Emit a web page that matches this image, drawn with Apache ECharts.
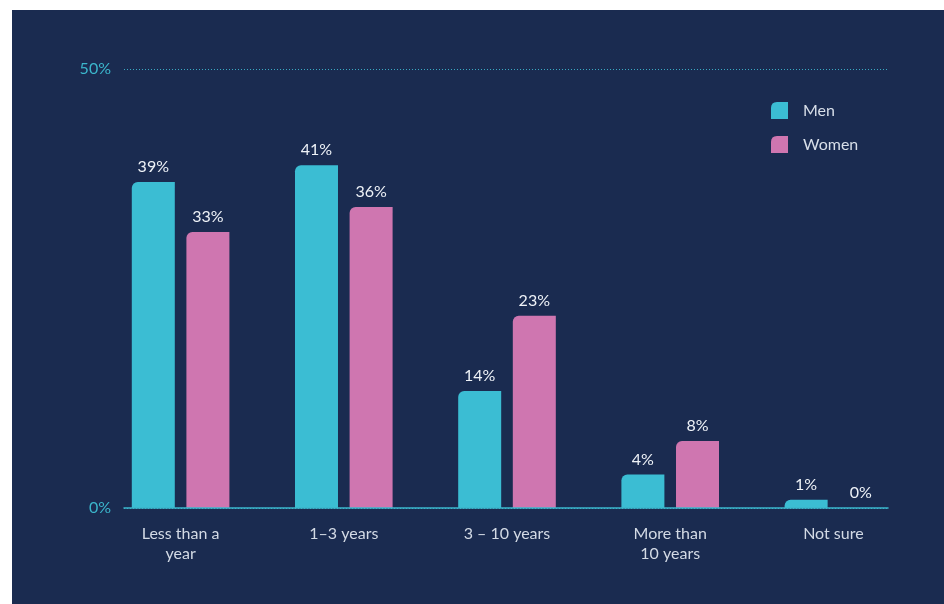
<!DOCTYPE html>
<html>
<head>
<meta charset="utf-8">
<script src="https://cdn.jsdelivr.net/npm/echarts@6/dist/echarts.min.js"></script>
<style>
  html, body { margin: 0; padding: 0; background: #ffffff; }
  #wrap { position: relative; width: 944px; height: 604px; background: #ffffff; }
  #chart { position: absolute; left: 12px; top: 10px; width: 932px; height: 594px; background: #1a2b50; }
</style>
</head>
<body>
<div id="wrap"><div id="chart"></div></div>
<script>
// Time spent in current role, by gender (%)
const categories = ['Less than a\nyear', '1–3 years', '3 – 10 years', 'More than\n10 years', 'Not sure'];
const menValues = [39, 41, 14, 4, 1];
const womenValues = [33, 36, 23, 8, 0];
const tickLabels = ['0%', '50%'];
const axisMax = 52.5;

const MEN = '#3bbdd3';
const WOMEN = '#cf76b0';
const FONT = 'Lato, "Noto Sans", sans-serif';

const chart = echarts.init(document.getElementById('chart'), null, { renderer: 'canvas' });

const legendIcon = 'path://M0,6 Q0,0 6,0 L17,0 L17,17 L0,17 Z';

chart.setOption({
  animation: false,
  textStyle: { fontFamily: FONT },
  legend: {
    orient: 'vertical',
    left: 754,
    top: 87,
    itemWidth: 17,
    itemHeight: 17,
    itemGap: 17,
    icon: legendIcon,
    textStyle: { color: '#d8dfe9', fontSize: 16, fontFamily: FONT, padding: [0, 0, 0, 10] },
    data: ['Men', 'Women']
  },
  grid: [
    { left: 87, right: 29, top: 59, bottom: 96 },
    { left: 112, right: 56, top: 59, bottom: 96 }
  ],
  xAxis: [
    {
      type: 'category',
      gridIndex: 0,
      data: categories,
      axisLine: { show: false },
      axisTick: { show: false },
      axisLabel: {
        color: '#d3dae5',
        fontSize: 16,
        fontFamily: FONT,
        lineHeight: 20,
        margin: 16
      }
    },
    {
      type: 'category',
      gridIndex: 1,
      data: categories,
      z: 10,
      axisLine: { show: true, lineStyle: { color: '#3bb6cc', width: 1.5 } },
      axisTick: { show: false },
      axisLabel: { show: false }
    }
  ],
  yAxis: [
    {
      type: 'value',
      gridIndex: 0,
      min: 0,
      max: axisMax,
      show: false,
      splitLine: { show: false }
    },
    {
      type: 'value',
      gridIndex: 1,
      min: 0,
      max: axisMax,
      interval: axisMax,
      axisLine: { show: false },
      axisTick: { show: false },
      splitLine: { show: true, lineStyle: { color: '#3aa9c2', type: [1, 2], width: 1 } },
      axisLabel: {
        color: '#3bb6cc',
        fontSize: 16,
        fontFamily: FONT,
        margin: 13,
        formatter: function (v) { return v === 0 ? tickLabels[0] : tickLabels[1]; }
      }
    }
  ],
  series: [
    {
      name: 'Men',
      type: 'bar',
      xAxisIndex: 0,
      yAxisIndex: 0,
      data: menValues,
      barWidth: 43,
      barGap: '27%',
      itemStyle: { color: MEN, borderRadius: [6, 0, 0, 0] },
      label: {
        show: true,
        position: 'top',
        distance: 7,
        color: '#eef2f7',
        fontSize: 16,
        fontFamily: FONT,
        formatter: '{c}%'
      }
    },
    {
      name: 'Women',
      type: 'bar',
      xAxisIndex: 0,
      yAxisIndex: 0,
      data: womenValues,
      barWidth: 43,
      barGap: '27%',
      itemStyle: { color: WOMEN, borderRadius: [6, 0, 0, 0] },
      label: {
        show: true,
        position: 'top',
        distance: 7,
        color: '#eef2f7',
        fontSize: 16,
        fontFamily: FONT,
        formatter: '{c}%'
      }
    }
  ]
});
</script>
</body>
</html>
